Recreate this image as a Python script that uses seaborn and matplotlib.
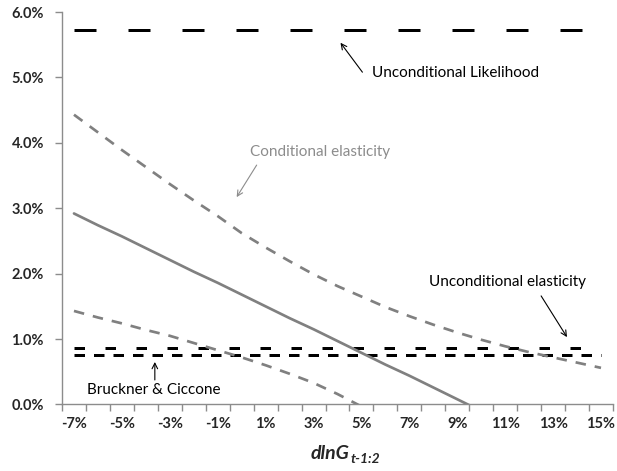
import numpy as np
import pandas as pd
import matplotlib
matplotlib.use("Agg")
import matplotlib.pyplot as plt
from matplotlib.ticker import PercentFormatter
import seaborn as sns

# Categories: lagged government growth dlnG (percent)
categories = [-7, -6, -5, -4, -3, -2, -1, 0, 1, 2, 3, 4, 5, 6, 7, 8, 9, 10, 11, 12, 13, 14, 15]

# Conditional elasticity (percent) and its confidence band
cond_elasticity = [2.92, 2.74, 2.57, 2.39, 2.21, 2.03, 1.86, 1.68, 1.50, 1.32, 1.15, 0.97,
                   0.79, 0.61, 0.44, 0.26, 0.08, -0.10, -0.28, -0.45, -0.63, -0.81, -0.99]
cond_upper = [4.43, 4.16, 3.89, 3.63, 3.37, 3.12, 2.88, 2.62, 2.40, 2.19, 1.99, 1.81,
              1.65, 1.49, 1.35, 1.22, 1.10, 0.99, 0.89, 0.80, 0.72, 0.64, 0.56]
cond_lower = [1.43, 1.33, 1.24, 1.14, 1.05, 0.94, 0.83, 0.72, 0.60, 0.47, 0.33, 0.16,
              -0.03, -0.27, -0.48, -0.70, -0.94, -1.19, -1.44, -1.70, -1.96, -2.23, -2.50]

# Benchmark levels (percent)
uncond_likelihood = 5.72
uncond_elasticity = 0.86
bruckner_ciccone = 0.76

tick_labels = [f"{c}%" for c in categories]

pos = np.arange(len(categories))
df = pd.DataFrame({
    "pos": pos,
    "cond": cond_elasticity,
    "upper": cond_upper,
    "lower": cond_lower,
    "likelihood": [uncond_likelihood] * len(categories),
    "uncond": [uncond_elasticity] * len(categories),
    "bc": [bruckner_ciccone] * len(categories),
})

sns.set_style("white")
plt.rcParams["font.family"] = ["Lato", "DejaVu Sans"]
plt.rcParams["lines.scale_dashes"] = False

fig = plt.figure(figsize=(6.17, 4.71), dpi=100)
ax = fig.add_axes([0.1005, 0.1412, 0.893, 0.8333])

black = "#000000"
gray = "#808080"
px = 0.72  # points per pixel at 100 dpi

# Benchmark lines
sns.lineplot(data=df, x="pos", y="likelihood", ax=ax, color=black, lw=3 * px,
             ls=(0, (22 * px, 32 * px)), errorbar=None)
sns.lineplot(data=df, x="pos", y="uncond", ax=ax, color=black, lw=3 * px,
             ls=(0, (10.5 * px, 20.5 * px)), errorbar=None)
sns.lineplot(data=df, x="pos", y="bc", ax=ax, color=black, lw=3 * px,
             ls=(0, (10.5 * px, 9 * px)), errorbar=None)

# Conditional elasticity with band
sns.lineplot(data=df, x="pos", y="upper", ax=ax, color=gray, lw=2.7 * px,
             ls=(0, (10.5 * px, 9 * px)), errorbar=None)
sns.lineplot(data=df, x="pos", y="lower", ax=ax, color=gray, lw=2.7 * px,
             ls=(0, (10.5 * px, 9 * px)), errorbar=None)
sns.lineplot(data=df, x="pos", y="cond", ax=ax, color=gray, lw=2.7 * px,
             ls="-", errorbar=None)

ax.set_xlim(-0.5, len(categories) - 0.5)
ax.set_ylim(0, 6)

# Category axis: tick marks between categories, labels on every other category
ax.set_xticks(np.arange(len(categories) + 1) - 0.5)
ax.set_xticklabels([])
ax.set_xticks(pos[::2], minor=True)
ax.set_xticklabels(tick_labels[::2], minor=True, fontweight="bold", fontsize=10.5)
ax.tick_params(axis="x", which="major", direction="out", length=5, width=1,
               color="#8c8c8c", bottom=True)
ax.tick_params(axis="x", which="minor", length=0, pad=9)

ax.set_yticks(np.arange(0, 7, 1))
ax.yaxis.set_major_formatter(PercentFormatter(xmax=100, decimals=1))
for lab in ax.get_yticklabels():
    lab.set_fontweight("bold")
ax.tick_params(axis="y", direction="out", length=5, width=1, color="#8c8c8c",
               left=True, labelsize=10.5, pad=8)

for side in ["top", "right"]:
    ax.spines[side].set_visible(False)
for side in ["left", "bottom"]:
    ax.spines[side].set_color("#8c8c8c")
    ax.spines[side].set_linewidth(1)

ax.set_xlabel("")
ax.set_ylabel("")

# Axis title with subscript
main = fig.text(0.504, 0.025, "dlnG", fontsize=14, fontweight="bold",
                fontstyle="italic", ha="left", va="baseline")
ax.annotate("t-1:2", xy=(1, 0), xycoords=main, xytext=(0.8, -0.8),
            textcoords="offset points", fontsize=10, fontweight="bold",
            fontstyle="italic", ha="left", va="baseline")

# Labels with arrows
fs = 11
arrow_k = dict(arrowstyle="->", color=black, lw=0.8, shrinkA=0, shrinkB=0)
ax.text(12.46, 5.07, "Unconditional Likelihood", fontsize=fs, color=black,
        ha="left", va="center")
ax.annotate("", xy=(11.125, 5.53), xytext=(12.04, 5.08), arrowprops=arrow_k)

ax.text(7.33, 3.86, "Conditional elasticity", fontsize=fs, color="#8c8c8c",
        ha="left", va="center")
ax.annotate("", xy=(6.79, 3.17), xytext=(7.625, 3.66),
            arrowprops=dict(arrow_k, color="#8c8c8c"))

ax.text(14.83, 1.87, "Unconditional elasticity", fontsize=fs, color=black,
        ha="left", va="center")
ax.annotate("", xy=(20.58, 1.03), xytext=(19.5, 1.66), arrowprops=arrow_k)

ax.text(0.54, 0.22, "Bruckner & Ciccone", fontsize=fs, color=black,
        ha="left", va="center")
ax.annotate("", xy=(3.375, 0.65), xytext=(3.375, 0.375), arrowprops=arrow_k)

fig.savefig("out.png", dpi=100)
